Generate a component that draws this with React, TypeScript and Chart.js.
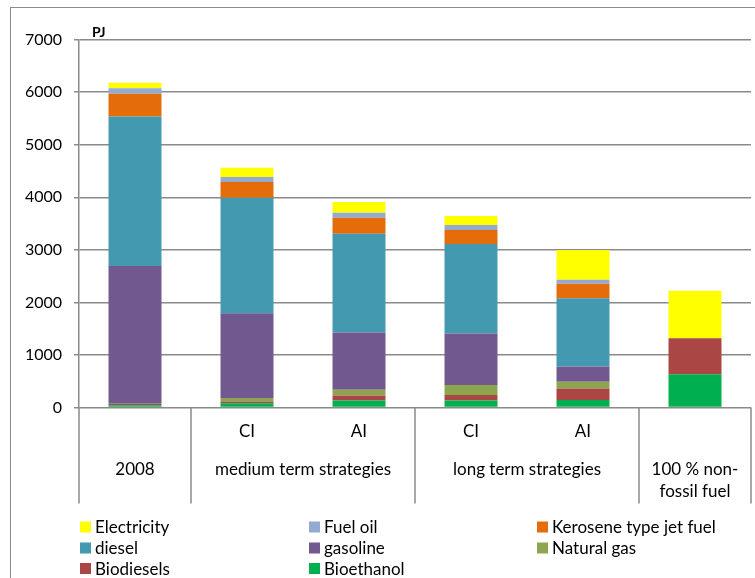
import React, { useEffect, useRef } from "react";
import { Chart, registerables } from "chart.js";

Chart.register(...registerables);

// ---- data ----
const innerLabels = ["", "CI", "AI", "CI", "AI", ""];
const groupLabels: string[][] = [
  ["2008"],
  ["medium term strategies"],
  ["long term strategies"],
  ["100 % non-", "fossil fuel"],
];
const groupSpans: number[][] = [
  [0, 0],
  [1, 2],
  [3, 4],
  [5, 5],
];
const yTicks = [0, 1000, 2000, 3000, 4000, 5000, 6000, 7000];

const bioethanol = [45, 80, 135, 133, 141, 635];
const biodiesels = [20, 35, 93, 103, 220, 684];
const naturalGas = [5, 65, 109, 190, 128, 0];
const gasoline = [2624, 1615, 1089, 981, 290, 0];
const diesel = [2846, 2197, 1882, 1705, 1301, 0];
const kerosene = [430, 300, 304, 266, 277, 0];
const fuelOil = [105, 95, 95, 95, 76, 0];
const electricity = [105, 177, 204, 171, 565, 905];

const seriesNames = [
  "Bioethanol",
  "Biodiesels",
  "Natural gas",
  "gasoline",
  "diesel",
  "Kerosene type jet fuel",
  "Fuel oil",
  "Electricity",
];
const seriesValues = [bioethanol, biodiesels, naturalGas, gasoline, diesel, kerosene, fuelOil, electricity];
const seriesColors = ["#00B050", "#AA4644", "#8DA54E", "#71588F", "#4399B0", "#E46C0A", "#94AAD2", "#FFFF00"];

const FONT = "Lato, 'Open Sans', sans-serif";
const GRID = "#8a8a8a";

const decorPlugin = {
  id: "decor",
  beforeDraw(chart: any) {
    const ctx = chart.ctx;
    ctx.save();
    ctx.fillStyle = "#ffffff";
    ctx.fillRect(0, 0, chart.width, chart.height);
    ctx.strokeStyle = "#8c8c8c";
    ctx.lineWidth = 1;
    ctx.strokeRect(10.5, 7.5, 2000, 2000);
    ctx.restore();
  },
  afterDraw(chart: any) {
    const { ctx, chartArea, scales } = chart;
    const xs = scales.x;
    const step = xs.getPixelForValue(1) - xs.getPixelForValue(0);
    const bottom = chartArea.bottom;
    ctx.save();
    // group separators
    ctx.strokeStyle = GRID;
    ctx.lineWidth = 1.5;
    const bounds: number[] = [];
    groupSpans.forEach((s, i) => {
      if (i === 0) bounds.push(xs.getPixelForValue(s[0]) - step / 2);
      bounds.push(xs.getPixelForValue(s[1]) + step / 2);
    });
    bounds.forEach((bx) => {
      ctx.beginPath();
      ctx.moveTo(bx, bottom);
      ctx.lineTo(bx, bottom + 96);
      ctx.stroke();
    });
    // group labels
    ctx.fillStyle = "#000";
    ctx.font = `17px ${FONT}`;
    ctx.textAlign = "center";
    ctx.textBaseline = "middle";
    groupSpans.forEach((s, i) => {
      const cx = (xs.getPixelForValue(s[0]) + xs.getPixelForValue(s[1])) / 2;
      groupLabels[i].forEach((line, j) => {
        ctx.fillText(line, cx, bottom + 62 + j * 22);
      });
    });
    // PJ label
    ctx.font = `bold 14px ${FONT}`;
    ctx.textAlign = "left";
    ctx.textBaseline = "alphabetic";
    ctx.fillText("PJ", chartArea.left + 13, chartArea.top - 3);
    // legend
    const order = [7, 6, 5, 4, 3, 2, 1, 0];
    const colX = [80, 309, 537];
    const rowY = [527, 548, 568.5];
    ctx.font = `17px ${FONT}`;
    ctx.textBaseline = "middle";
    order.forEach((di, k) => {
      const ds = chart.data.datasets[di];
      const x = colX[k % 3];
      const y = rowY[Math.floor(k / 3)];
      ctx.fillStyle = ds.backgroundColor;
      ctx.fillRect(x, y - 5.5, 11, 11);
      ctx.fillStyle = "#000";
      ctx.fillText(ds.label, x + 15, y + 1);
    });
    ctx.restore();
  },
};

export default function App() {
  const ref = useRef<HTMLCanvasElement | null>(null);
  useEffect(() => {
    if (!ref.current) return;
    const chart = new Chart(ref.current, {
      type: "bar",
      data: {
        labels: innerLabels,
        datasets: seriesNames.map((name, i) => ({
          label: name,
          data: seriesValues[i],
          backgroundColor: seriesColors[i],
          borderWidth: 0,
          categoryPercentage: 1,
          barPercentage: 0.473,
        })),
      },
      options: {
        responsive: false,
        animation: false,
        layout: { padding: { top: 39.7, right: 4, left: 0, bottom: 0 } },
        plugins: { legend: { display: false }, tooltip: { enabled: false }, title: { display: false } },
        scales: {
          x: {
            stacked: true,
            grid: { display: false, drawTicks: false },
            border: { display: false },
            ticks: { color: "#000", font: { family: FONT, size: 17 }, padding: 14, maxRotation: 0, autoSkip: false },
            afterFit: (s: any) => {
              s.height = 170.5;
            },
          },
          y: {
            stacked: true,
            min: 0,
            max: 7000,
            afterBuildTicks: (s: any) => {
              s.ticks = yTicks.map((v) => ({ value: v }));
            },
            grid: { color: GRID, lineWidth: 1.5, drawTicks: true, tickLength: 5 },
            border: { display: true, color: GRID, width: 1.5 },
            ticks: {
              color: "#000",
              font: { family: FONT, size: 16 },
              padding: 12,
              callback: (v: any) => String(v),
            },
            afterFit: (s: any) => {
              s.width = 79;
            },
          },
        },
      },
      plugins: [decorPlugin],
    });
    return () => chart.destroy();
  }, []);
  return (
    <div style={{ position: "absolute", left: 0, top: 0, width: 755, height: 578 }}>
      <canvas ref={ref} width={755} height={578} style={{ display: "block" }} />
    </div>
  );
}
